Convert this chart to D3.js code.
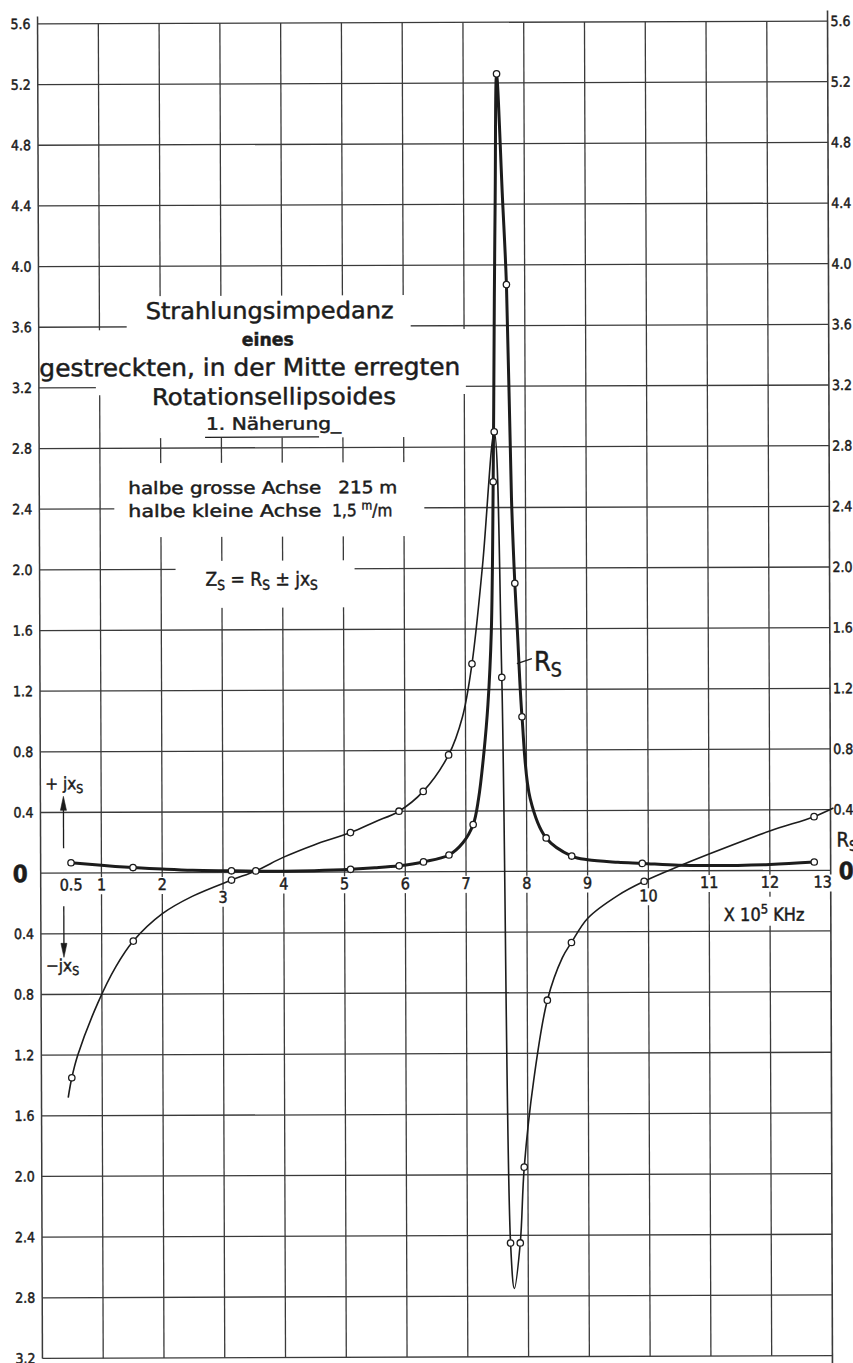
<!DOCTYPE html>
<html>
<head>
<meta charset="utf-8">
<script src="https://cdn.jsdelivr.net/npm/d3@7"></script>
<style>
  body { margin: 0; background: #fff; }
  svg { display: block; }
  text { font-family: "DejaVu Sans Condensed", "DejaVu Sans", sans-serif; fill: #1c1c1c;
         stroke: #1c1c1c; stroke-width: 0.45px; }
</style>
</head>
<body>
<div id="chart"></div>
<script>
// frequency axis, in units of 10^5 KHz
const xGrid = [0, 1, 2, 3, 4, 5, 6, 7, 8, 9, 10, 11, 12, 13];
const xTicks = [0.5, 1, 2, 3, 4, 5, 6, 7, 8, 9, 10, 11, 12, 13];
const xTicksLow = [3, 10]; // these labels sit lower, under the curve
// impedance axis (values below zero are -jxs, printed without sign)
const yTicks = [5.6, 5.2, 4.8, 4.4, 4.0, 3.6, 3.2, 2.8, 2.4, 2.0, 1.6, 1.2, 0.8, 0.4, 0,
  -0.4, -0.8, -1.2, -1.6, -2.0, -2.4, -2.8, -3.2];
const yTicksRight = [5.6, 5.2, 4.8, 4.4, 4.0, 3.6, 3.2, 2.8, 2.4, 2.0, 1.6, 1.2, 0.8, 0.4];

// R_s, radiation resistance (thick curve)
const rsCurve = [
  [0.5, 0.068], [1.0, 0.05], [1.52, 0.035], [2.0, 0.024], [2.5, 0.015], [3.14, 0.011],
  [3.54, 0.008], [4.0, 0.007], [4.5, 0.01], [5.1, 0.018], [5.5, 0.027], [5.9, 0.04],
  [6.3, 0.065], [6.72, 0.11], [6.95, 0.19], [7.12, 0.31], [7.21, 0.48], [7.30, 0.78],
  [7.37, 1.1], [7.43, 1.58], [7.47, 2.57], [7.50, 3.78], [7.52, 4.44], [7.55, 5.26],
  [7.64, 4.44], [7.70, 3.87], [7.77, 2.46], [7.82, 1.90], [7.86, 1.58], [7.93, 1.02],
  [8.06, 0.48], [8.32, 0.22], [8.74, 0.10], [9.0, 0.075], [9.5, 0.058], [9.9, 0.05],
  [10.5, 0.037], [11.0, 0.034], [12.0, 0.04], [12.73, 0.055]
];
const rsPoints = [
  [0.5, 0.068], [1.52, 0.035], [3.14, 0.011], [5.1, 0.018], [5.9, 0.04], [6.3, 0.065],
  [6.72, 0.11], [7.12, 0.31], [7.47, 2.57], [7.55, 5.26], [7.70, 3.87], [7.82, 1.90],
  [7.93, 1.02], [8.32, 0.22], [8.74, 0.10], [9.9, 0.05], [12.73, 0.055]
];

// x_s, radiation reactance (thin curve)
const jxsCurve = [
  [0.44, -1.48], [0.5, -1.35], [0.6, -1.2], [0.93, -0.86], [1.23, -0.62], [1.52, -0.45],
  [2.0, -0.27], [2.5, -0.155], [3.14, -0.05], [3.54, 0.01], [4.0, 0.10], [4.5, 0.18],
  [5.1, 0.26], [5.5, 0.33], [5.9, 0.40], [6.3, 0.53], [6.72, 0.77], [6.95, 1.02],
  [7.11, 1.37], [7.29, 2.02], [7.49, 2.90], [7.60, 1.28], [7.71, -2.45], [7.77, -2.75],
  [7.87, -2.45], [7.94, -1.95], [8.1, -1.38], [8.33, -0.85], [8.58, -0.57], [8.73, -0.47],
  [9.0, -0.31], [9.5, -0.16], [9.93, -0.068], [10.5, 0.03], [11.0, 0.11], [12.0, 0.26],
  [12.73, 0.354], [13.05, 0.41]
];
const jxsPoints = [
  [0.5, -1.35], [1.52, -0.45], [3.14, -0.05], [3.54, 0.01], [5.1, 0.26], [5.9, 0.40],
  [6.3, 0.53], [6.72, 0.77], [7.11, 1.37], [7.49, 2.90], [7.60, 1.28], [7.71, -2.45],
  [7.87, -2.45], [7.94, -1.95], [8.33, -0.85], [8.73, -0.47], [9.93, -0.068], [12.73, 0.354]
];

const W = 853, H = 1363;
const ink = "#1c1c1c";

const x = d3.scaleLinear().domain([0, 13]).range([40, 830]);
const y = d3.scaleLinear().domain([-3.2, 5.6]).range([1357, 22.5]);

const svg = d3.select("#chart").append("svg").attr("width", W).attr("height", H);
svg.append("rect").attr("width", W).attr("height", H).attr("fill", "#fff");

// the scanned sheet is a little tilted
const g = svg.append("g").attr("transform", "rotate(-0.21 435 690)");

// grid
const grid = g.append("g").attr("stroke", "#3a3a3a").attr("stroke-width", 1.3);
grid.selectAll(".h").data(yTicks).join("line")
  .attr("x1", x(0)).attr("x2", x(13))
  .attr("y1", d => y(d)).attr("y2", d => y(d));
grid.selectAll(".v").data(xGrid.slice(1, -1)).join("line")
  .attr("x1", d => x(d)).attr("x2", d => x(d))
  .attr("y1", y(5.6)).attr("y2", y(-3.2));
grid.append("line").attr("x1", x(0)).attr("x2", x(0)).attr("y1", 15).attr("y2", y(-3.2))
  .attr("stroke-width", 1.5);
grid.append("line").attr("x1", x(13)).attr("x2", x(13)).attr("y1", 12).attr("y2", H + 5)
  .attr("stroke-width", 1.6);

// white paper pasted over the grid for the title block
const masks = [
  [128, 295, 412, 437],
  [42, 329, 467, 385],
  [97, 380, 467, 394],
  [115, 462, 425, 536],
  [176, 560, 355, 607]
];
g.append("g").selectAll("rect").data(masks).join("rect")
  .attr("x", d => d[0]).attr("y", d => d[1])
  .attr("width", d => d[2] - d[0]).attr("height", d => d[3] - d[1])
  .attr("fill", "#fff");

// helper for text with subscripts / superscripts
function rich(sel, px, py, size, parts, anchor) {
  const t = sel.append("text").attr("x", px).attr("y", py)
    .style("font-size", size + "px").attr("text-anchor", anchor || "start");
  let shift = 0;
  parts.forEach(p => {
    const target = p.sub ? size * 0.22 : p.sup ? -size * 0.4 : 0;
    const ts = t.append("tspan").text(p.t).attr("dy", target - shift);
    if (p.sub || p.sup) ts.style("font-size", (size * 0.72) + "px");
    shift = target;
  });
  return t;
}

// x tick labels, each on a small white patch
const xl = g.append("g");
xTicks.forEach(v => {
  const ly = xTicksLow.includes(v) ? 902 : 889;
  const lx = v === 13 ? x(v) - 8 : x(v);
  const t = xl.append("text").attr("x", lx).attr("y", ly).attr("text-anchor", "middle")
    .style("font-size", "16px").text(String(v));
  const b = t.node().getBBox();
  xl.insert("rect", "text").attr("x", b.x - 1).attr("y", b.y + 2)
    .attr("width", b.width + 2).attr("height", b.height - 2).attr("fill", "#fff");
});

// unit label
g.append("rect").attr("x", 720).attr("y", 898).attr("width", 98).attr("height", 29)
  .attr("fill", "#fff");
rich(g, 723, 922, 18, [{ t: "X 10" }, { t: "5", sup: true }, { t: " KHz" }]);

// left y labels
const yl = g.append("g");
yTicks.forEach(v => {
  if (v === 0) {
    yl.append("text").attr("x", 27).attr("y", y(0) + 9).attr("text-anchor", "end")
      .style("font-size", "24px").style("font-weight", "bold").text("0");
  } else {
    yl.append("text").attr("x", 33).attr("y", y(v) + 5).attr("text-anchor", "end")
      .style("font-size", "14px").text(Math.abs(v).toFixed(1));
  }
});
// right y labels
yTicksRight.forEach(v => {
  yl.append("text").attr("x", 833).attr("y", y(v) + 5)
    .style("font-size", "14px").text(v.toFixed(1));
});
rich(yl, 836, 848, 20, [{ t: "R" }, { t: "S", sub: true }]);
yl.append("text").attr("x", 838).attr("y", y(0) + 9)
  .style("font-size", "24px").style("font-weight", "bold").text("0");

// curves
const line = d3.line().x(d => x(d[0])).y(d => y(d[1])).curve(d3.curveCatmullRom.alpha(0.5));
g.append("path").datum(jxsCurve).attr("d", line)
  .attr("fill", "none").attr("stroke", ink).attr("stroke-width", 1.6);
g.append("path").datum(rsCurve).attr("d", line)
  .attr("fill", "none").attr("stroke", ink).attr("stroke-width", 3)
  .attr("stroke-linejoin", "round");

g.append("g").selectAll("circle").data(rsPoints.concat(jxsPoints)).join("circle")
  .attr("cx", d => x(d[0])).attr("cy", d => y(d[1])).attr("r", 3.2)
  .attr("fill", "#fff").attr("stroke", ink).attr("stroke-width", 1.3);

// R_s label at the resonance peak
g.append("line").attr("x1", 517).attr("y1", 664).attr("x2", 532).attr("y2", 659)
  .attr("stroke", ink).attr("stroke-width", 1.3);
rich(g, 534, 671, 27, [{ t: "R" }, { t: "S", sub: true }]);

// +jxs / -jxs with arrows
rich(g, 45, 788, 17, [{ t: "+ jx" }, { t: "S", sub: true }]);
rich(g, 45, 970, 17, [{ t: "\u2212jx" }, { t: "S", sub: true }]);
const arrows = g.append("g").attr("stroke", ink).attr("stroke-width", 1.3).attr("fill", ink);
arrows.append("line").attr("x1", 63).attr("y1", 847).attr("x2", 63).attr("y2", 805);
arrows.append("path").attr("d", "M63,795 L60,809 L66,809 Z").attr("stroke-width", 0.6);
arrows.append("line").attr("x1", 63).attr("y1", 905).attr("x2", 63).attr("y2", 946);
arrows.append("path").attr("d", "M63,956 L60,942 L66,942 Z").attr("stroke-width", 0.6);

// title block
const tb = g.append("g");
tb.append("text").attr("x", 271).attr("y", 318).attr("text-anchor", "middle")
  .style("font-size", "23px").attr("textLength", 248).attr("lengthAdjust", "spacingAndGlyphs")
  .text("Strahlungsimpedanz");
tb.append("text").attr("x", 269).attr("y", 345).attr("text-anchor", "middle")
  .style("font-size", "18px").style("font-weight", "bold")
  .attr("textLength", 52).attr("lengthAdjust", "spacingAndGlyphs").text("eines");
tb.append("text").attr("x", 251).attr("y", 375).attr("text-anchor", "middle")
  .style("font-size", "24px").attr("textLength", 421).attr("lengthAdjust", "spacingAndGlyphs")
  .text("gestreckten, in der Mitte erregten");
tb.append("text").attr("x", 275).attr("y", 404).attr("text-anchor", "middle")
  .style("font-size", "23px").attr("textLength", 244).attr("lengthAdjust", "spacingAndGlyphs")
  .text("Rotationsellipsoides");
tb.append("text").attr("x", 207).attr("y", 429)
  .style("font-size", "17px").attr("textLength", 135).attr("lengthAdjust", "spacingAndGlyphs")
  .text("1. Näherung_");
tb.append("line").attr("x1", 206).attr("x2", 320).attr("y1", 436.5).attr("y2", 436.5)
  .attr("stroke", ink).attr("stroke-width", 1.4);

tb.append("text").attr("x", 129).attr("y", 493).style("font-size", "17px")
  .attr("textLength", 193).attr("lengthAdjust", "spacingAndGlyphs").text("halbe grosse Achse");
tb.append("text").attr("x", 339).attr("y", 493).style("font-size", "17px")
  .attr("textLength", 59).attr("lengthAdjust", "spacingAndGlyphs").text("215 m");
tb.append("text").attr("x", 129).attr("y", 516).style("font-size", "17px")
  .attr("textLength", 193).attr("lengthAdjust", "spacingAndGlyphs").text("halbe kleine  Achse");
rich(tb, 333, 516, 17, [{ t: "1,5 " }, { t: "m", sup: true }, { t: "/m" }]);

rich(tb, 206, 585, 19, [
  { t: "Z" }, { t: "S", sub: true }, { t: " = R" }, { t: "S", sub: true },
  { t: " \u00b1 jx" }, { t: "S", sub: true }
]);
</script>
</body>
</html>
